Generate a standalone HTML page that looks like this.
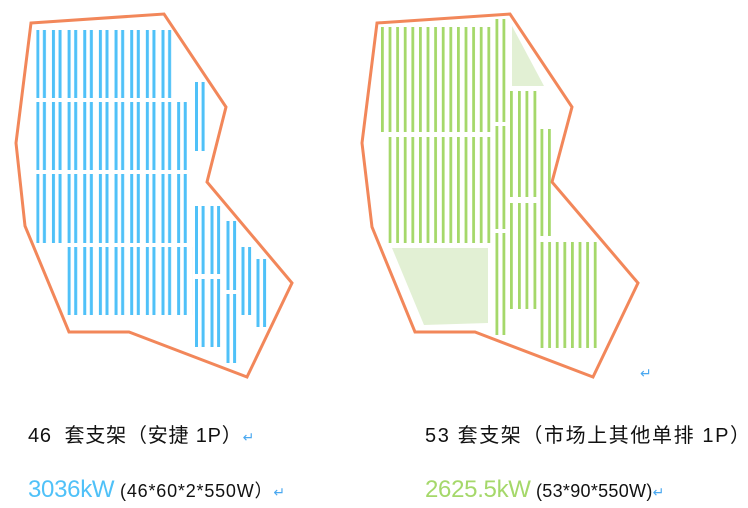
<!DOCTYPE html>
<html><head><meta charset="utf-8"><style>
html,body{margin:0;padding:0;background:#fff;width:748px;height:508px;overflow:hidden}
svg{position:absolute;left:0;top:0}
.t{position:absolute;font-family:"Liberation Sans","Noto Sans CJK SC",sans-serif;color:#111;white-space:nowrap}
.r{color:#4aa8f0;font-size:14px}
</style></head><body>
<svg width="748" height="508" viewBox="0 0 748 508">
<defs>
<pattern id="bp" patternUnits="userSpaceOnUse" x="36.3" y="0" width="15.65" height="600">
<rect x="0" y="0" width="3" height="600" fill="#4fc1f8"/><rect x="6.6" y="0" width="3" height="600" fill="#4fc1f8"/>
</pattern>
<pattern id="gp" patternUnits="userSpaceOnUse" x="381" y="0" width="7.6" height="600">
<rect x="0" y="0" width="2.8" height="600" fill="#a5d86a"/>
</pattern>
</defs>
<polygon points="31,23 164,14 226,107 207,182 292,283 247,377 129,332 69,332 25,226 16,143" fill="none" stroke="#f2875a" stroke-width="3"/>
<rect x="36.3" y="30" width="140" height="68" fill="url(#bp)"/>
<rect x="36.3" y="102" width="156" height="68" fill="url(#bp)"/>
<rect x="36.3" y="174" width="156" height="69" fill="url(#bp)"/>
<rect x="67.6" y="247" width="125" height="68" fill="url(#bp)"/>
<g fill="#4fc1f8">
<rect x="195" y="82" width="3" height="69"/><rect x="201.6" y="82" width="3" height="69"/>
<rect x="195" y="206" width="3" height="68"/><rect x="201.6" y="206" width="3" height="68"/>
<rect x="195" y="279" width="3" height="68"/><rect x="201.6" y="279" width="3" height="68"/>
<rect x="210.5" y="206" width="3" height="68"/><rect x="217.1" y="206" width="3" height="68"/>
<rect x="210.5" y="279" width="3" height="68"/><rect x="217.1" y="279" width="3" height="68"/>
<rect x="226.5" y="221" width="3" height="69"/><rect x="233.1" y="221" width="3" height="69"/>
<rect x="226.5" y="294" width="3" height="69"/><rect x="233.1" y="294" width="3" height="69"/>
<rect x="241.5" y="247" width="3" height="68"/><rect x="248.1" y="247" width="3" height="68"/>
<rect x="256.5" y="259" width="3" height="68"/><rect x="263.1" y="259" width="3" height="68"/>
</g>
<polygon points="512,26 512,86 544,86" fill="#e2f0d4"/>
<polygon points="392,248 488,248 488,323 424,325" fill="#e2f0d4"/>
<polygon points="377,23 510,14 572,107 552,182 638,283 593,377 475,332 415,332 372,227 362,143" fill="none" stroke="#f2875a" stroke-width="3"/>
<rect x="381" y="27" width="110" height="105" fill="url(#gp)"/>
<rect x="388.6" y="137" width="102" height="106" fill="url(#gp)"/>
<g fill="#a5d86a">
<rect x="495.5" y="19" width="2.8" height="103"/><rect x="502.5" y="19" width="2.8" height="103"/>
<rect x="495.5" y="126" width="2.8" height="103"/><rect x="502.5" y="126" width="2.8" height="103"/>
<rect x="495.5" y="233" width="2.8" height="102"/><rect x="502.5" y="233" width="2.8" height="102"/>
<rect x="510" y="91" width="2.8" height="106"/><rect x="518" y="91" width="2.8" height="106"/><rect x="525.5" y="91" width="2.8" height="106"/><rect x="533.5" y="91" width="2.8" height="106"/>
<rect x="510" y="203" width="2.8" height="106"/><rect x="518" y="203" width="2.8" height="106"/><rect x="525.5" y="203" width="2.8" height="106"/><rect x="533.5" y="203" width="2.8" height="106"/>
<rect x="540.5" y="129" width="2.8" height="107"/><rect x="548" y="129" width="2.8" height="107"/>
</g>
<rect x="540.5" y="242" width="59" height="106" fill="url(#gp)"/>
<text x="640" y="378" font-family="Liberation Sans,sans-serif" font-size="14" fill="#4aa8f0">↵</text>
</svg>
<div class="t" style="left:28px;top:419px;font-size:20px;letter-spacing:0.8px">46&nbsp; 套支架（安捷 1P）<span class="r">↵</span></div>
<div class="t" style="left:425px;top:419px;font-size:20px;letter-spacing:1.6px">53 套支架（市场上其他单排 1P）</div>
<div class="t" style="left:28px;top:476px;font-size:18px;letter-spacing:0.8px"><span style="color:#4fc1f8;font-size:24px;letter-spacing:-0.3px">3036kW</span> (46*60*2*550W）<span class="r">↵</span></div>
<div class="t" style="left:425px;top:476px;font-size:18px;letter-spacing:0.3px"><span style="color:#a5d86a;font-size:24px;letter-spacing:-0.3px">2625.5kW</span> (53*90*550W)<span class="r">↵</span></div>
</body></html>
